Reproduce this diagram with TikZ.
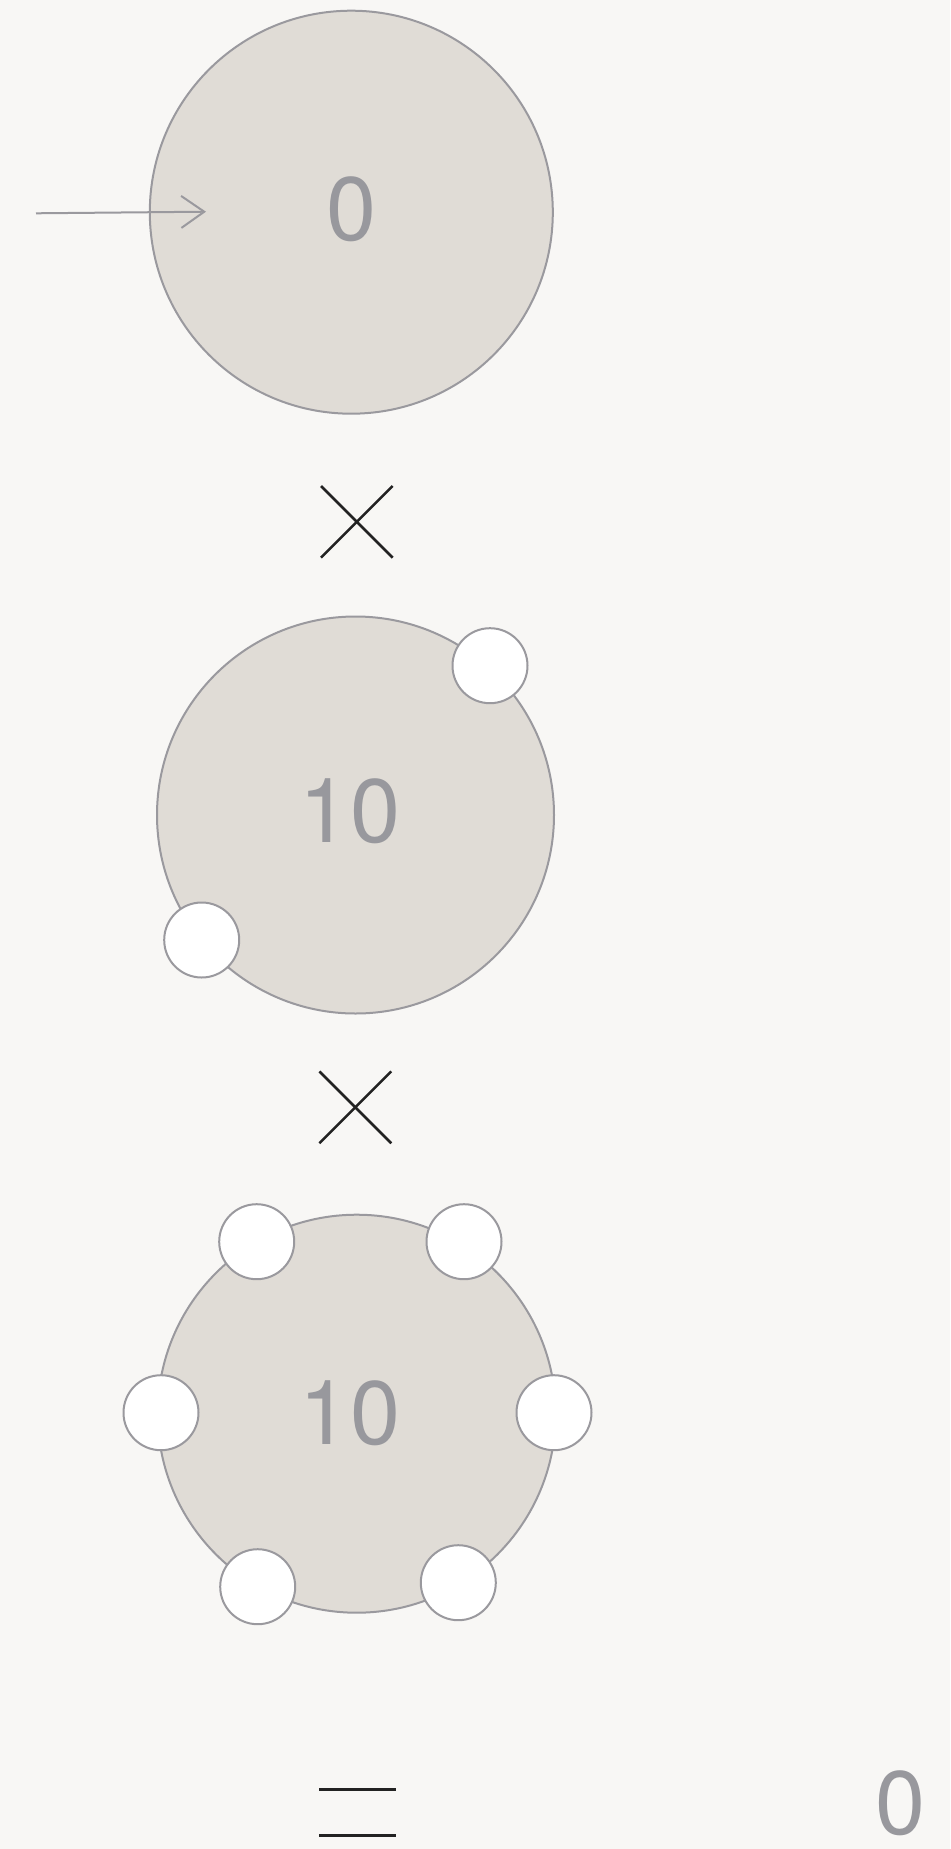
\documentclass[tikz,border=0pt]{standalone}
\usepackage{fontspec}
\setmainfont{TeX Gyre Heros}
\usetikzlibrary{arrows.meta}
\definecolor{bg}{HTML}{F8F7F5}
\definecolor{disk}{HTML}{E0DCD6}
\definecolor{rim}{HTML}{9A999E}
\definecolor{digit}{HTML}{98989D}
\definecolor{ink}{HTML}{222222}
\begin{document}
\begin{tikzpicture}[x=1pt,y=-1pt,
  bigdisk/.style={circle, draw=rim, fill=disk, line width=2pt, inner sep=0pt, minimum size=#1},
  bead/.style={circle, draw=rim, fill=white, line width=2pt, inner sep=0pt, minimum size=75pt},
  numtext/.style={text=digit, font=\fontsize{90}{90}\selectfont, inner sep=0pt},
  crossline/.style={draw=ink, line width=2.5pt},
  eqline/.style={draw=ink, line width=3pt}]
\useasboundingbox (0,0) rectangle (950,1849);
\fill[bg] (0,0) rectangle (950,1849);

% first disk
\node[bigdisk=403pt] (d1) at (351.3,212.2) {};
\node[numtext] (t1) at (351.7,209.2) {0};
\coordinate (arrowstart) at (36,213.3);
\coordinate (arrowtip) at (206,211.7);
\draw[draw=rim, line width=2pt, -{Straight Barb[length=23pt,width=32pt]}] (arrowstart) -- (arrowtip);

% first cross
\draw[crossline] (321,486) -- (392.7,557.7);
\draw[crossline] (321,557.7) -- (392.7,486);

% second disk
\node[bigdisk=397pt] (d2) at (355.5,815) {};
\node[numtext] (t2) at (350,811.7) {10};
\node[bead] (b21) at (490,665.7) {};
\node[bead] (b22) at (201.7,940) {};

% second cross
\draw[crossline] (319.4,1071.4) -- (391.3,1143.3);
\draw[crossline] (319.4,1143.3) -- (391.3,1071.4);

% third disk
\node[bigdisk=398pt] (d3) at (356.7,1413.7) {};
\node[numtext] (t3) at (350,1413) {10};
\node[bead] (b31) at (256.7,1241.7) {};
\node[bead] (b32) at (464,1241.7) {};
\node[bead] (b33) at (161,1412.7) {};
\node[bead] (b34) at (554,1412.7) {};
\node[bead] (b35) at (257.7,1586.7) {};
\node[bead] (b36) at (458.3,1582.7) {};

% equals and result
\draw[eqline] (319.3,1789) -- (395.7,1789);
\draw[eqline] (319.3,1835.3) -- (395.7,1835.3);
\node[numtext] (res) at (900.7,1803.5) {0};
\end{tikzpicture}
\end{document}
